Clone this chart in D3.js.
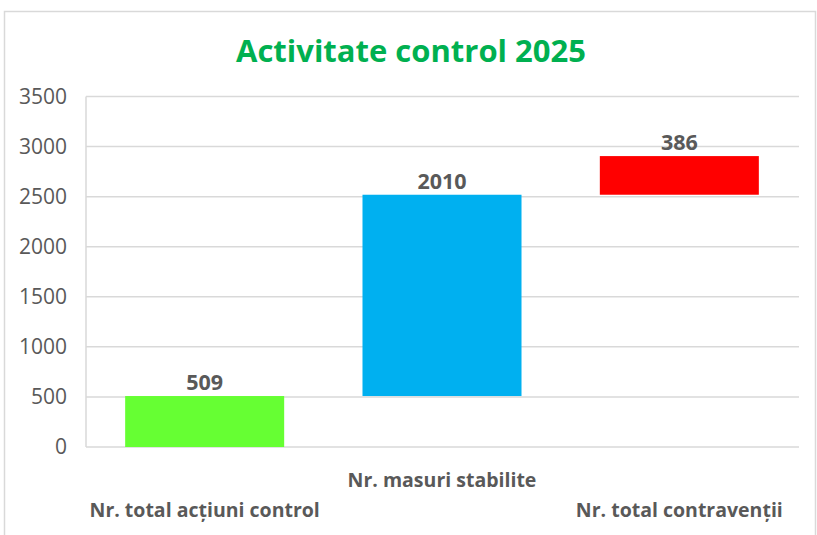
<!DOCTYPE html>
<html>
<head>
<meta charset="utf-8">
<script src="https://cdn.jsdelivr.net/npm/d3@7"></script>
<style>
  html, body { margin: 0; padding: 0; background: #fff; }
  svg text { font-family: "Open Sans", "Noto Sans", sans-serif; }
</style>
</head>
<body>
<svg id="chart" width="817" height="535"></svg>
<script>
// waterfall: each bar starts where the previous one ended
const categories = ['Nr. total acțiuni control', 'Nr. masuri stabilite', 'Nr. total contravenții'];
const values = [509, 2010, 386];
const colors = ['#66FF33', '#00B0F0', '#FF0000'];
const yTicks = [0, 500, 1000, 1500, 2000, 2500, 3000, 3500];
const title = 'Activitate control 2025';

const svg = d3.select('#chart');
const grey = '#595959';

// chart border
svg.append('rect').attr('x', 4.5).attr('y', 11.5).attr('width', 811).attr('height', 540)
  .attr('fill', '#fff').attr('stroke', '#D9D9D9').attr('stroke-width', 1.5);

svg.append('text').attr('x', 411).attr('y', 62).attr('text-anchor', 'middle')
  .attr('fill', '#00B050').attr('font-weight', 700).attr('font-size', 31)
  .text(title);

const x = d3.scaleBand().domain(categories).range([86, 798]).paddingInner(0.33).paddingOuter(0.165);
const y = d3.scaleLinear().domain([0, 3500]).range([447, 96.5]);

// gridlines
svg.append('g').selectAll('line').data(yTicks).join('line')
  .attr('x1', 86).attr('x2', 799)
  .attr('y1', d => y(d)).attr('y2', d => y(d))
  .attr('stroke', '#D9D9D9').attr('stroke-width', 1.5);

// left axis line
svg.append('line').attr('x1', 86).attr('x2', 86).attr('y1', y(3500)).attr('y2', y(0))
  .attr('stroke', '#D9D9D9').attr('stroke-width', 1.5);

const yAxis = svg.append('g').attr('transform', 'translate(86,0)')
  .call(d3.axisLeft(y).tickValues(yTicks).tickFormat(d3.format('d')).tickSize(0).tickPadding(19));
yAxis.select('.domain').remove();
yAxis.selectAll('text').attr('fill', grey).attr('font-size', 21)
  .style('font-family', '"Open Sans", sans-serif');

// cumulative bases
const bars = values.map((v, i) => ({
  cat: categories[i], value: v, color: colors[i],
  base: d3.sum(values.slice(0, i))
}));

svg.append('g').selectAll('rect').data(bars).join('rect')
  .attr('x', d => x(d.cat)).attr('width', x.bandwidth())
  .attr('y', d => y(d.base + d.value))
  .attr('height', d => y(d.base) - y(d.base + d.value))
  .attr('fill', d => d.color);

svg.append('g').selectAll('text').data(bars).join('text')
  .attr('x', d => x(d.cat) + x.bandwidth() / 2)
  .attr('y', d => y(d.base + d.value) - 6)
  .attr('text-anchor', 'middle').attr('fill', grey)
  .attr('font-weight', 700).attr('font-size', 21.5)
  .text(d => d.value);

// staggered category labels
svg.append('g').selectAll('text').data(categories).join('text')
  .attr('x', d => x(d) + x.bandwidth() / 2)
  .attr('y', (d, i) => i % 2 ? 487 : 517)
  .attr('text-anchor', 'middle').attr('fill', grey)
  .attr('font-weight', 700).attr('font-size', 19.5)
  .text(d => d);
</script>
</body>
</html>
